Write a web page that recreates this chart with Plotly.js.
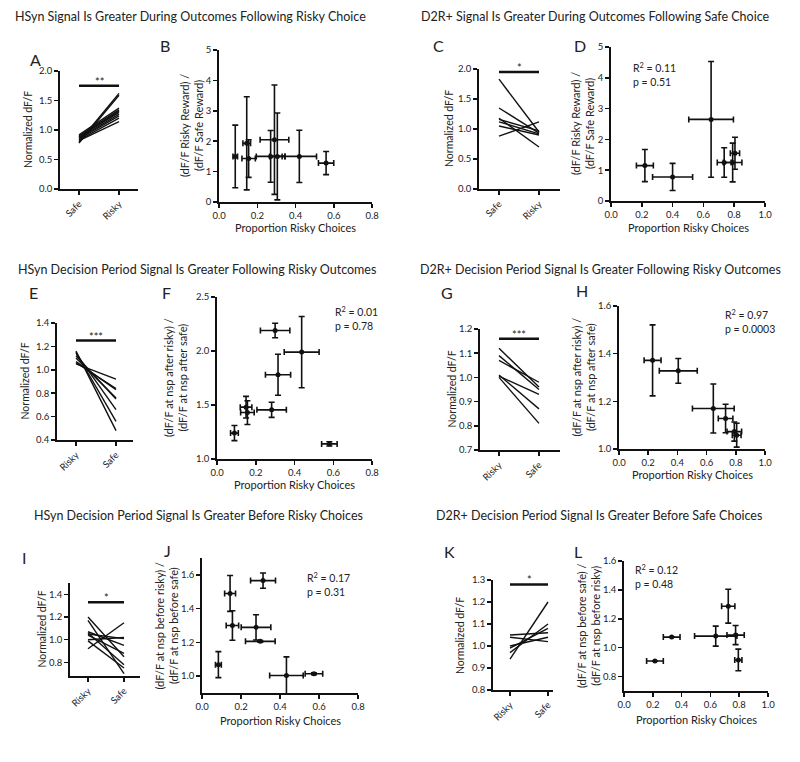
<!DOCTYPE html>
<html>
<head>
<meta charset="utf-8">
<script src="https://cdn.plot.ly/plotly-3.0.1.min.js"></script>
<style>html,body{margin:0;padding:0;background:#fff;}#chart{width:800px;height:762px;}</style>
</head>
<body>
<div id="chart"></div>
<script>
// ---------------- DATA ----------------
// Panel A (HSyn outcome, Safe -> Risky)
const A_cats = ['Safe', 'Risky'];
const A_safe  = [0.80, 0.78, 0.92, 0.90, 0.88, 0.86, 0.85, 0.83, 0.82, 0.88];
const A_risky = [1.62, 1.59, 1.37, 1.34, 1.30, 1.27, 1.24, 1.20, 1.14, 1.32];
// Panel B
const B_x    = [0.085, 0.145, 0.155, 0.27, 0.29, 0.305, 0.42, 0.56];
const B_y    = [1.50, 1.93, 1.43, 1.50, 2.05, 1.50, 1.50, 1.28];
const B_xerr = [0.012, 0.02, 0.035, 0.075, 0.075, 0.04, 0.09, 0.04];
const B_yerr = [1.03, 1.53, 0.62, 0.85, 1.80, 1.43, 0.86, 0.38];
// Panel C (D2R+ outcome, Safe -> Risky)
const C_cats = ['Safe', 'Risky'];
const C_safe  = [1.83, 1.35, 1.18, 1.16, 1.12, 1.05, 0.88];
const C_risky = [0.95, 0.93, 0.70, 0.97, 0.92, 0.90, 1.12];
// Panel D
const D_x    = [0.22, 0.40, 0.65, 0.735, 0.79, 0.805];
const D_y    = [1.15, 0.78, 2.65, 1.25, 1.25, 1.55];
const D_xerr = [0.055, 0.13, 0.145, 0.045, 0.06, 0.03];
const D_yerr = [0.52, 0.44, 1.88, 0.48, 0.63, 0.52];
// Panel E (HSyn decision, Risky -> Safe)
const E_cats = ['Risky', 'Safe'];
const E_risky = [1.16, 1.15, 1.14, 1.12, 1.10, 1.07, 1.06, 1.05];
const E_safe  = [0.48, 0.56, 0.66, 0.75, 0.76, 0.83, 0.84, 0.92];
// Panel F
const F_x    = [0.30, 0.437, 0.315, 0.282, 0.15, 0.157, 0.09, 0.58];
const F_y    = [2.19, 1.99, 1.78, 1.455, 1.48, 1.43, 1.24, 1.14];
const F_xerr = [0.076, 0.09, 0.065, 0.076, 0.03, 0.035, 0.02, 0.04];
const F_yerr = [0.067, 0.33, 0.19, 0.07, 0.10, 0.11, 0.07, 0.02];
// Panel G (D2R+ decision, Risky -> Safe)
const G_cats = ['Risky', 'Safe'];
const G_risky = [1.12, 1.09, 1.07, 1.01, 1.005, 1.00];
const G_safe  = [0.96, 0.95, 0.98, 0.87, 0.93, 0.81];
// Panel H
const H_x    = [0.23, 0.406, 0.646, 0.73, 0.79, 0.806];
const H_y    = [1.372, 1.328, 1.17, 1.128, 1.073, 1.058];
const H_xerr = [0.058, 0.13, 0.143, 0.05, 0.05, 0.03];
const H_yerr = [0.149, 0.052, 0.103, 0.06, 0.04, 0.05];
// Panel I (HSyn before choice, Risky -> Safe)
const I_cats = ['Risky', 'Safe'];
const I_risky = [1.20, 1.17, 1.07, 1.06, 1.05, 1.04, 1.00, 0.99, 0.92];
const I_safe  = [0.85, 0.70, 0.95, 0.78, 1.01, 0.88, 1.02, 0.75, 1.15];
// Panel J
const J_x    = [0.313, 0.144, 0.156, 0.277, 0.299, 0.084, 0.433, 0.574];
const J_y    = [1.566, 1.49, 1.30, 1.289, 1.206, 1.068, 1.004, 1.014];
const J_xerr = [0.064, 0.028, 0.032, 0.076, 0.076, 0.015, 0.086, 0.045];
const J_yerr = [0.045, 0.106, 0.087, 0.075, 0.005, 0.077, 0.11, 0.005];
// Panel K (D2R+ before choice, Risky -> Safe)
const K_cats = ['Risky', 'Safe'];
const K_risky = [0.94, 0.97, 0.99, 1.00, 1.04, 1.05];
const K_safe  = [1.20, 1.10, 1.08, 1.04, 1.02, 1.06];
// Panel L
const L_x    = [0.215, 0.331, 0.637, 0.724, 0.775, 0.794];
const L_y    = [0.908, 1.073, 1.08, 1.287, 1.087, 0.915];
const L_xerr = [0.058, 0.058, 0.147, 0.046, 0.06, 0.025];
const L_yerr = [0.0, 0.0, 0.069, 0.117, 0.066, 0.075];

// significance bars (paired panels A, C, E, G, I, K)
const sigLevels = [1.75, 1.95, 1.25, 1.16, 1.33, 1.28];
const sigStars  = ['**', '*', '***', '***', '*', '*'];

// regression stats (scatter panels B, D, F, H, J, L)
const statR2 = ['0.12', '0.11', '0.01', '0.97', '0.17', '0.12'];
const statP  = ['0.40', '0.51', '0.78', '0.0003', '0.31', '0.48'];

const rowTitles = [
  'HSyn Signal Is Greater During Outcomes Following Risky Choice',
  'D2R+ Signal Is Greater During Outcomes Following Safe Choice',
  'HSyn Decision Period Signal Is Greater Following Risky Outcomes',
  'D2R+ Decision Period Signal Is Greater Following Risky Outcomes',
  'HSyn Decision Period Signal Is Greater Before Risky Choices',
  'D2R+ Decision Period Signal Is Greater Before Safe Choices'
];
const panelLetters = ['A','B','C','D','E','F','G','H','I','J','K','L'];
const pairedYTitle = 'Normalized dF/F';
const scatterXTitle = 'Proportion Risky Choices';
const scatterYTitles = [
  '(dF/F Risky Reward) /<br>(dF/F Safe Reward)',
  '(dF/F Risky Reward) /<br>(dF/F Safe Reward)',
  '(dF/F at nsp after risky) /<br>(dF/F at nsp after safe)',
  '(dF/F at nsp after risky) /<br>(dF/F at nsp after safe)',
  '(dF/F at nsp before risky) /<br>(dF/F at nsp before safe)',
  '(dF/F at nsp before safe) /<br>(dF/F at nsp before risky)'
];

// ---------------- LAYOUT HELPERS ----------------
const W = 800, H = 762;
const FONT = 'Lato, "Open Sans", "Liberation Sans", sans-serif';
const INK = '#222';
function xd(a, b) { return [a / W, b / W]; }
function yd(top, bot) { return [1 - bot / H, 1 - top / H]; }
function px(x) { return x / W; }
function py(y) { return 1 - y / H; }

const traces = [];
const annotations = [];
const layout = {
  width: W, height: H,
  margin: {l: 0, r: 0, t: 0, b: 0},
  paper_bgcolor: '#fff', plot_bgcolor: 'rgba(0,0,0,0)',
  showlegend: false,
  font: {family: FONT, color: INK, size: 10},
  annotations: annotations
};

function baseAxis() {
  return {
    showline: true, linecolor: '#111', linewidth: 1.8,
    ticks: 'outside', ticklen: 4, tickwidth: 1.5, tickcolor: '#111',
    showgrid: false, zeroline: false,
    tickfont: {family: FONT, size: 9.5, color: INK},
    fixedrange: true
  };
}

function vTitle(text, xPix, box, size) {
  annotations.push({xref: 'paper', yref: 'paper', x: px(xPix), y: py((box[2] + box[3]) / 2),
    text: text, textangle: -90, showarrow: false, xanchor: 'center', yanchor: 'middle',
    align: 'center', font: {family: FONT, size: size, color: INK}});
}

// paired panel
function pairedPanel(idx, box, ticks, first, second, cats, yrange, ytick, sigIdx, titleX) {
  const xs = idx === 1 ? 'x' : 'x' + idx;
  const ys = idx === 1 ? 'y' : 'y' + idx;
  const unit = (ticks[1] - ticks[0]);
  const xr = [(box[0] - ticks[0]) / unit, (box[1] - ticks[0]) / unit];
  const xa = Object.assign(baseAxis(), {
    domain: xd(box[0], box[1]), range: xr, anchor: ys,
    tickmode: 'array', tickvals: [0, 1], ticktext: cats, tickangle: -45
  });
  const ya = Object.assign(baseAxis(), {
    domain: yd(box[2], box[3]), range: yrange, anchor: xs, tickformat: '.1f'
  });
  Object.assign(ya, ytick);
  layout[idx === 1 ? 'xaxis' : 'xaxis' + idx] = xa;
  layout[idx === 1 ? 'yaxis' : 'yaxis' + idx] = ya;
  const lx = [], ly = [];
  for (let i = 0; i < first.length; i++) {
    lx.push(0, 1, null); ly.push(first[i], second[i], null);
  }
  traces.push({x: lx, y: ly, xaxis: xs, yaxis: ys, mode: 'lines', type: 'scatter',
    line: {color: '#111', width: 1.4}, hoverinfo: 'skip'});
  traces.push({x: [0, 1], y: [sigLevels[sigIdx], sigLevels[sigIdx]], xaxis: xs, yaxis: ys,
    mode: 'lines', type: 'scatter', line: {color: '#111', width: 2.5}, hoverinfo: 'skip'});
  annotations.push({xref: xs, yref: ys, x: 0.5, y: sigLevels[sigIdx], text: sigStars[sigIdx],
    showarrow: false, yanchor: 'bottom', yshift: -4, font: {family: FONT, size: 11, color: INK}});
  vTitle(pairedYTitle, titleX, box, 10.5);
}

// scatter panel
function scatterPanel(idx, box, xs_, ys_, xe, ye, xrange, xtick, yrange, ytick, k, statPos, titleX, xTitleY) {
  const xs = 'x' + idx, ys = 'y' + idx;
  const xa = Object.assign(baseAxis(), {
    domain: xd(box[0], box[1]), range: xrange, anchor: ys, tickformat: '.1f'
  });
  Object.assign(xa, xtick);
  const ya = Object.assign(baseAxis(), {
    domain: yd(box[2], box[3]), range: yrange, anchor: xs
  });
  Object.assign(ya, ytick);
  layout['xaxis' + idx] = xa;
  layout['yaxis' + idx] = ya;
  traces.push({x: xs_, y: ys_, xaxis: xs, yaxis: ys, mode: 'markers', type: 'scatter',
    marker: {color: '#111', size: 5},
    error_x: {type: 'data', array: xe, color: '#111', thickness: 1.6, width: 3},
    error_y: {type: 'data', array: ye, color: '#111', thickness: 1.6, width: 3},
    hoverinfo: 'skip'});
  annotations.push({xref: xs, yref: ys, x: statPos[0], y: statPos[1],
    text: 'R<sup>2</sup> = ' + statR2[k] + '<br>p = ' + statP[k],
    showarrow: false, xanchor: 'left', yanchor: 'top', align: 'left',
    font: {family: FONT, size: 10.5, color: INK}});
  vTitle(scatterYTitles[k], titleX, box, 11);
  annotations.push({xref: 'paper', yref: 'paper', x: px((box[0] + box[1]) / 2), y: py(xTitleY),
    text: scatterXTitle, showarrow: false, xanchor: 'center', yanchor: 'middle',
    font: {family: FONT, size: 11, color: INK}});
}

// ---------------- PANELS ----------------
pairedPanel(1,  [60, 138, 71, 189],  [79, 119],  A_safe,  A_risky, A_cats, [0, 2],    {dtick: 0.5, tick0: 0}, 0, 28);
pairedPanel(3,  [479, 560, 69, 189], [499, 539], C_safe,  C_risky, C_cats, [0, 2],    {dtick: 0.5, tick0: 0}, 1, 449);
pairedPanel(5,  [57, 133, 323, 440], [76, 116],  E_risky, E_safe,  E_cats, [0.4, 1.4], {dtick: 0.2, tick0: 0}, 2, 25);
pairedPanel(7,  [480, 560, 329, 450],[499, 539], G_risky, G_safe,  G_cats, [0.7, 1.2], {dtick: 0.1, tick0: 0}, 3, 451);
pairedPanel(9,  [70, 140, 583, 676], [88, 124],  I_risky, I_safe,  I_cats, [0.68, 1.5], {tickmode: 'array', tickvals: [0.8, 1.0, 1.2, 1.4]}, 4, 41);
pairedPanel(11, [493, 553, 580, 690],[510, 548], K_risky, K_safe,  K_cats, [0.8, 1.3], {dtick: 0.1, tick0: 0}, 5, 460);

scatterPanel(2,  [219, 372, 50, 202],  B_x, B_y, B_xerr, B_yerr, [0, 0.8], {dtick: 0.2, tick0: 0}, [0, 5], {dtick: 1, tick0: 0},
  0, [0.6, 5.1], 191, 227);
scatterPanel(4,  [611, 765, 47, 201],  D_x, D_y, D_xerr, D_yerr, [0, 1], {dtick: 0.2, tick0: 0}, [0, 5], {dtick: 1, tick0: 0},
  1, [0.13, 4.6], 583, 227);
scatterPanel(6,  [217, 372, 297, 459], F_x, F_y, F_xerr, F_yerr, [0, 0.8], {dtick: 0.2, tick0: 0}, [1.0, 2.5], {dtick: 0.5, tick0: 0, tickformat: '.1f'},
  2, [0.6, 2.44], 175, 484);
scatterPanel(8,  [619, 765, 306, 449], H_x, H_y, H_xerr, H_yerr, [0, 1], {dtick: 0.2, tick0: 0}, [1.0, 1.6], {dtick: 0.2, tick0: 0, tickformat: '.1f'},
  3, [0.71, 1.6], 583, 474);
scatterPanel(10, [202, 358, 558, 693], J_x, J_y, J_xerr, J_yerr, [0, 0.8], {dtick: 0.2, tick0: 0}, [0.9, 1.7], {dtick: 0.2, tick0: 0, tickformat: '.1f'},
  4, [0.53, 1.635], 166, 720);
scatterPanel(12, [624, 768, 561, 691], L_x, L_y, L_xerr, L_yerr, [0, 1], {dtick: 0.2, tick0: 0}, [0.7, 1.6], {dtick: 0.2, tick0: 0, tickformat: '.1f'},
  5, [0.06, 1.6], 588, 719);

// row titles
const titlePos = [[190, 16], [595, 16], [197, 269], [600, 269], [198, 515], [599, 515]];
rowTitles.forEach((t, i) => {
  annotations.push({xref: 'paper', yref: 'paper', x: px(titlePos[i][0]), y: py(titlePos[i][1]),
    text: t, showarrow: false, xanchor: 'center', yanchor: 'middle',
    font: {family: FONT, size: 12.5, color: INK}});
});
// panel letters
const letterPos = [[35, 59], [165, 45], [438, 45], [580, 45], [33, 292], [166, 292],
                   [447, 292], [582, 290], [24, 557], [167, 550], [449, 551], [578, 551]];
panelLetters.forEach((t, i) => {
  annotations.push({xref: 'paper', yref: 'paper', x: px(letterPos[i][0]), y: py(letterPos[i][1]),
    text: t, showarrow: false, xanchor: 'center', yanchor: 'middle',
    font: {family: FONT, size: 16, color: INK}});
});

Plotly.newPlot('chart', traces, layout, {displayModeBar: false, staticPlot: true});
</script>
</body>
</html>
